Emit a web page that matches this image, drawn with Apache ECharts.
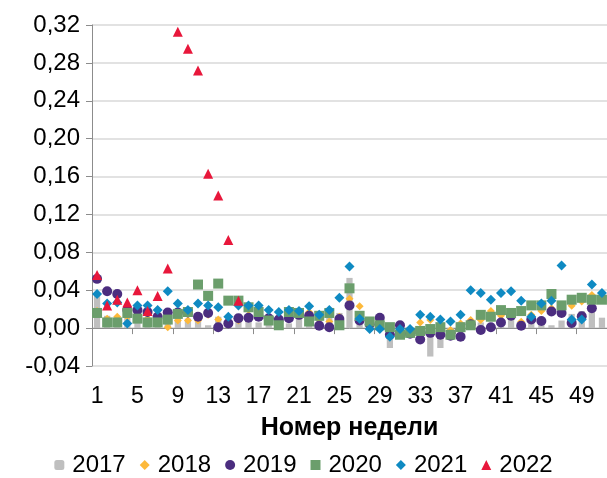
<!DOCTYPE html>
<html>
<head>
<meta charset="utf-8">
<script src="https://cdn.jsdelivr.net/npm/echarts@6/dist/echarts.min.js"></script>
<style>
  html, body { margin: 0; padding: 0; background: #fff; }
  #chart { width: 607px; height: 478px; }
</style>
</head>
<body>
<div id="chart"></div>
<script>
var weeks = ['1','2','3','4','5','6','7','8','9','10','11','12','13','14','15','16','17','18','19','20',
  '21','22','23','24','25','26','27','28','29','30','31','32','33','34','35','36','37','38','39','40',
  '41','42','43','44','45','46','47','48','49','50','51'];

var legendNames = ['2017', '2018', '2019', '2020', '2021', '2022'];

var y2017 = [0.036, 0.013, 0.010, 0.014, 0.011, 0.009, 0.010, 0.009, 0.012, 0.010,
  0.008, 0.003, 0.012, 0.010, 0.015, 0.015, 0.006, 0.008, 0.010, 0.005,
  0.013, 0.009, 0.011, 0.013, 0.016, 0.053, 0.012, 0.005, -0.003, -0.021,
  -0.004, -0.008, -0.006, -0.030, -0.021, -0.005, -0.003, 0.002, 0.006, 0.004,
  0.008, 0.012, 0.004, 0.008, 0.009, 0.003, 0.008, 0.015, 0.018, 0.018, 0.011];

var y2018 = [0.018, 0.010, 0.012, 0.012, 0.012, 0.010, 0.012, 0.001, 0.008, 0.008,
  0.008, 0.014, 0.009, 0.006, 0.008, 0.019, 0.014, 0.012, 0.010, 0.012,
  0.016, 0.017, 0.010, 0.007, 0.012, 0.031, 0.023, 0.005, 0.003, -0.004,
  -0.002, -0.003, 0.006, 0.0085, 0.003, -0.002, 0.005, 0.0085, 0.0085, 0.018,
  0.013, 0.015, 0.0066, 0.014, 0.018, 0.021, 0.021, 0.0235, 0.028, 0.035, 0.030];

var y2019 = [0.052, 0.039, 0.036, 0.019, 0.019, 0.017, 0.012, 0.0165, 0.0165, 0.0165,
  0.012, 0.016, 0.001, 0.005, 0.0105, 0.011, 0.012, 0.0105, 0.009, 0.0105,
  0.014, 0.013, 0.0025, 0.001, 0.0095, 0.024, 0.008, 0.004, 0.011, -0.007,
  0.003, -0.006, -0.012, -0.005, -0.007, -0.008, -0.009, 0.004, -0.002, 0.001,
  0.006, 0.013, 0.0025, 0.009, 0.0075, 0.0175, 0.016, 0.0055, 0.0125, 0.021, null];

var y2020 = [0.016, 0.006, 0.006, 0.016, 0.010, 0.006, 0.006, 0.009, 0.015, 0.017,
  0.046, 0.034, 0.047, 0.029, 0.029, 0.022, 0.017, 0.008, 0.003, 0.017,
  0.016, 0.007, 0.013, 0.016, 0.003, 0.042, 0.013, 0.007, 0.003, 0.001,
  -0.007, -0.005, -0.003, -0.001, 0.001, -0.007, 0.001, 0.003, 0.014, 0.012,
  0.019, 0.016, 0.018, 0.024, 0.024, 0.036, 0.024, 0.030, 0.032, 0.030, 0.030];

var y2021 = [0.036, 0.026, 0.027, 0.005, 0.024, 0.024, 0.019, 0.039, 0.026, 0.019,
  0.026, 0.024, 0.022, 0.012, 0.024, 0.024, 0.024, 0.019, 0.017, 0.019,
  0.018, 0.023, 0.014, 0.019, 0.032, 0.065, 0.010, -0.001, -0.001, -0.009,
  -0.001, -0.001, 0.014, 0.012, 0.009, 0.007, 0.014, 0.040, 0.037, 0.030,
  0.037, 0.039, 0.029, 0.012, 0.026, 0.029, 0.066, 0.009, 0.009, 0.046, 0.037];

var y2022 = [0.056, 0.024, 0.030, 0.027, 0.040, 0.018, 0.034, 0.063, 0.313, 0.295,
  0.272, 0.163, 0.140, 0.093, 0.029];

var yTicks = { min: -0.04, max: 0.32, step: 0.04 };

var chart = echarts.init(document.getElementById('chart'));
var font = 'Liberation Sans, Arial, sans-serif';

function scatter(name, data, symbol, size, color) {
  return {
    name: name,
    type: 'scatter',
    data: data,
    symbol: symbol,
    symbolSize: size,
    itemStyle: { color: color, opacity: 1 },
    xAxisIndex: 0,
    silent: true
  };
}

var option = {
  animation: false,
  backgroundColor: '#fff',
  textStyle: { fontFamily: font },
  grid: { left: 92, right: 0, top: 25, bottom: 112, containLabel: false },
  legend: {
    data: legendNames,
    bottom: 1,
    left: 'center',
    padding: 0,
    itemWidth: 10,
    itemHeight: 10,
    itemGap: 14,
    textStyle: { fontSize: 24, color: '#000', fontFamily: font, padding: [0, 0, 0, 3] }
  },
  xAxis: [
    {
      type: 'category',
      data: weeks,
      boundaryGap: true,
      axisLine: { onZero: false, show: false },
      axisTick: { show: false },
      axisLabel: { interval: 3, fontSize: 23, color: '#000', margin: 19, fontFamily: font },
      name: 'Номер недели',
      nameLocation: 'middle',
      nameGap: 50,
      nameTextStyle: { fontSize: 25, fontWeight: 'bold', color: '#000', fontFamily: font },
      splitLine: { show: false }
    },
    {
      type: 'category',
      data: weeks,
      boundaryGap: true,
      position: 'bottom',
      axisLine: { onZero: true, lineStyle: { color: '#8c8c8c', width: 1 } },
      axisTick: { show: true, interval: 3, length: 6, inside: false, lineStyle: { color: '#8c8c8c' } },
      axisLabel: { show: false },
      splitLine: { show: false }
    }
  ],
  yAxis: {
    type: 'value',
    min: yTicks.min,
    max: yTicks.max,
    interval: yTicks.step,
    axisLine: { show: true, lineStyle: { color: '#8c8c8c', width: 1 } },
    axisTick: { show: true, length: 6, lineStyle: { color: '#8c8c8c' } },
    axisLabel: {
      fontSize: 24, color: '#000', margin: 12, fontFamily: font,
      formatter: function (v) { return v.toFixed(2).replace('.', ','); }
    },
    splitLine: { show: true, lineStyle: { color: '#d9d9d9', width: 1.5 } }
  },
  series: [
    {
      name: '2017',
      type: 'bar',
      data: y2017,
      barWidth: '62%',
      itemStyle: { color: '#bfbfbf' },
      xAxisIndex: 0,
      silent: true
    },
    scatter('2018', y2018, 'diamond', 8, '#fdb93a'),
    scatter('2019', y2019, 'circle', 10, '#4b2d7f'),
    scatter('2020', y2020, 'rect', 10, '#6b9e6c'),
    scatter('2021', y2021, 'diamond', 10, '#0f8ac2'),
    scatter('2022', y2022, 'triangle', 10, '#e8173b')
  ]
};

chart.setOption(option);
</script>
</body>
</html>
